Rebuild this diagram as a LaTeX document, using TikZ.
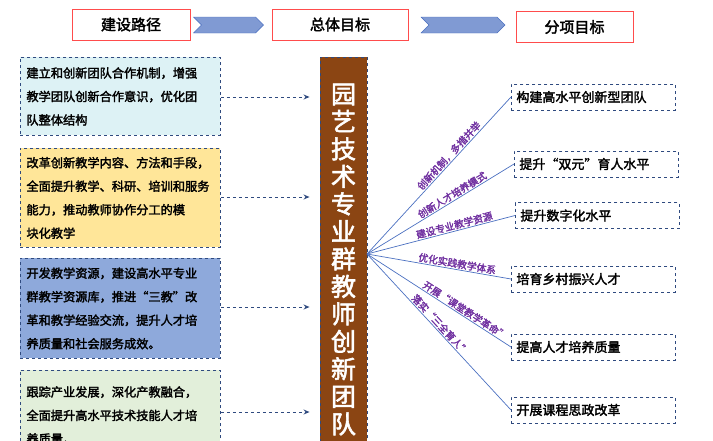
\documentclass[tikz,border=0pt]{standalone}
\usepackage{fontspec}
\setmainfont{Noto Sans CJK SC}[BoldFont=*,BoldFeatures={FakeBold=2.2}]
\usetikzlibrary{arrows.meta,shapes.symbols}
\definecolor{navy}{HTML}{2F4A7F}
\definecolor{lnblue}{HTML}{4A6FC0}
\definecolor{purp}{HTML}{7030A0}
\definecolor{brownc}{HTML}{8B4513}
\definecolor{f1}{HTML}{DDF2F5}
\definecolor{f2}{HTML}{FFE699}
\definecolor{f3}{HTML}{8EA9DB}
\definecolor{f4}{HTML}{E2EFDA}
\tikzset{
 hdr/.style={draw=red!70,line width=0.8pt,fill=white,minimum height=31pt,font=\bfseries\fontsize{15}{17}\selectfont},
 chev/.style={signal,signal to=east,signal from=west,fill=lnblue!70,draw=lnblue,minimum width=70pt,minimum height=16pt,inner sep=0pt},
 lbox/.style={draw=navy,dashed,line width=0.9pt,minimum width=198pt,anchor=north west,align=left,text width=188pt,inner xsep=6pt,inner ysep=3pt,font=\fontsize{12.2}{23.5}\selectfont\bfseries},
 rbox/.style={draw=navy,dashed,line width=0.9pt,minimum width=164pt,minimum height=26pt,anchor=west,inner sep=4pt,font=\fontsize{13}{15}\selectfont\bfseries,text width=154pt,align=left},
 darr/.style={draw=navy,dashed,line width=1pt,-{Stealth[open,length=6pt,width=5pt]}},
 fan/.style={draw=lnblue,line width=0.7pt},
 flab/.style={font=\fontsize{9.8}{11}\selectfont\bfseries,text=purp,sloped,above,inner sep=1pt}
}
\begin{document}
\begin{tikzpicture}[x=1pt,y=-1pt]
\useasboundingbox (0,0) rectangle (713,440);
\clip (0,0) rectangle (713,440);
% headers
\node[hdr,minimum width=118pt] (h1) at (131,24.5) {建设路径};
\node[hdr,minimum width=136pt] (h2) at (340,24.5) {总体目标};
\node[hdr,minimum width=117pt] (h3) at (574.5,27) {分项目标};
\node[chev] (c1) at (228.5,25) {};
\node[chev,minimum width=84pt] (c2) at (463,25) {};
% left boxes
\node[lbox,fill=f1,minimum height=78pt] (l1) at (20,57) {建立和创新团队合作机制，增强\\教学团队创新合作意识，优化团\\队整体结构};
\node[lbox,fill=f2,minimum height=99pt] (l2) at (20,148) {改革创新教学内容、方法和手段，\\全面提升教学、科研、培训和服务\\能力，推动教师协作分工的模\\块化教学};
\node[lbox,fill=f3,minimum height=100pt] (l3) at (20,258) {开发教学资源，建设高水平专业\\群教学资源库，推进“三教”改\\革和教学经验交流，提升人才培\\养质量和社会服务成效。};
\node[lbox,fill=f4,minimum height=90pt] (l4) at (20,370) {跟踪产业发展，深化产教融合，\\全面提升高水平技术技能人才培\\养质量。};
% center column
\node[draw=navy,dashed,line width=0.9pt,fill=brownc,minimum width=47pt,minimum height=400pt,anchor=north,inner sep=0pt] (col) at (343.5,57) {};
\node[text=white,font=\bfseries\fontsize{25}{27.5}\selectfont,align=center,anchor=north] (ct) at (343.5,80) {园\\艺\\技\\术\\专\\业\\群\\教\\师\\创\\新\\团\\队};
\coordinate (a1) at (col.west |- 0,97);
\coordinate (a2) at (col.west |- 0,197);
\coordinate (a3) at (col.west |- 0,307);
\coordinate (a4) at (col.west |- 0,412);
\draw[darr] (l1.east |- a1) -- ([xshift=-10pt]a1);
\draw[darr] (l2.east |- a2) -- ([xshift=-10pt]a2);
\draw[darr] (l3.east |- a3) -- ([xshift=-10pt]a3);
\draw[darr] (l4.east |- a4) -- ([xshift=-10pt]a4);
% right boxes
\node[rbox] (r1) at (511,97) {构建高水平创新型团队};
\node[rbox] (r2) at (514,164) {提升“双元”育人水平};
\node[rbox] (r3) at (515,215.5) {提升数字化水平};
\node[rbox] (r4) at (511,279) {培育乡村振兴人才};
\node[rbox] (r5) at (511,347) {提高人才培养质量};
\node[rbox] (r6) at (511,410) {开展课程思政改革};
\coordinate (o) at (367,254);
\draw[fan] (o) -- node[flab,pos=0.6] {创新机制，多措并举} (r1.west);
\draw[fan] (o) -- node[flab,pos=0.6] {创新人才培养模式} (r2.west);
\draw[fan] (o) -- node[flab,pos=0.6] {建设专业教学资源} (r3.west);
\draw[fan] (o) -- node[flab,pos=0.62] {优化实践教学体系} (r4.west);
\draw[fan] (o) -- node[flab,pos=0.66] {开展“课堂教学革命”} (r5.west);
\draw[fan] (o) -- node[flab,pos=0.48] {落实“三全育人”} (r6.west);
\end{tikzpicture}
\end{document}
